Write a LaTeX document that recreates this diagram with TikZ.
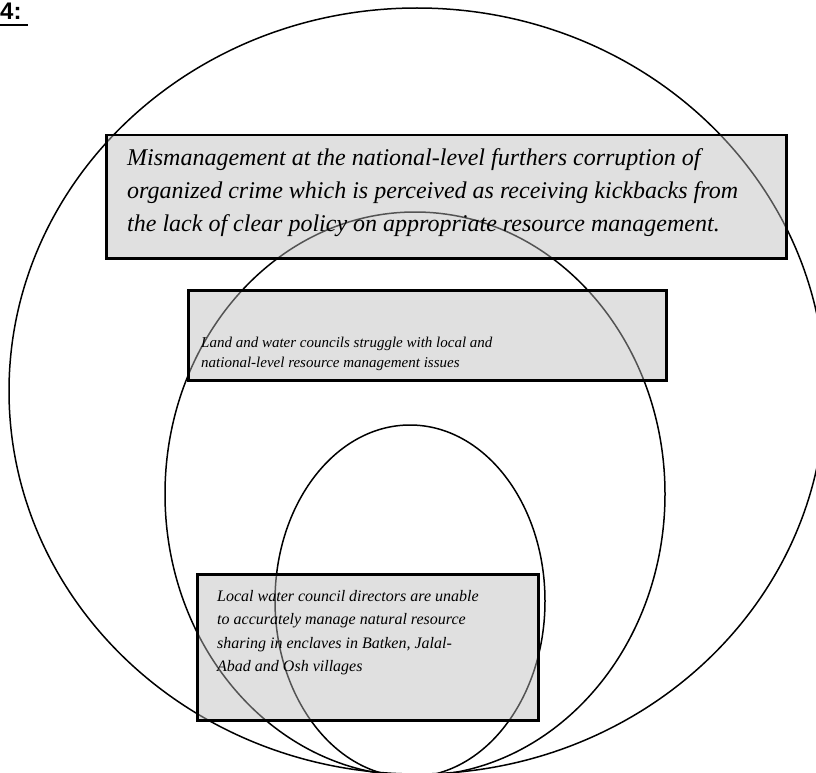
\documentclass[tikz,border=0pt]{standalone}
\usepackage{fontspec}
\setmainfont{Liberation Serif}
\setsansfont{Liberation Sans}
\begin{document}
\begin{tikzpicture}[x=1pt,y=-1pt,
  ring/.style={draw=black,line width=1.5pt},
  panel/.style={draw=black,line width=2.5pt,
    fill={rgb,1:red,0.73;green,0.73;blue,0.73},fill opacity=0.45,draw opacity=1,
    inner sep=0pt,anchor=north west},
  bigtext/.style={font=\fontsize{24}{33}\selectfont\itshape,align=left,inner sep=0pt,anchor=north west},
  smalltext/.style={font=\fontsize{16}{22}\selectfont\itshape,align=left,inner sep=0pt,anchor=north west}]
\useasboundingbox (0,0) rectangle (816,773);

% figure number
\node[font=\fontsize{24}{28}\selectfont\sffamily\bfseries,anchor=base west,inner sep=0pt] (fignum) at (0,20) {4:};
\draw[line width=2.5pt] ([yshift=-5pt]fignum.base west) -- ([xshift=6pt,yshift=-5pt]fignum.base east);

% nested ovals, meeting at the bottom edge
\draw[ring] (417,391) ellipse [x radius=408,y radius=383];
\draw[ring] (415,494) ellipse [x radius=250,y radius=282];
\draw[ring] (410,601) ellipse [x radius=135,y radius=176];

% shaded panels
\node[panel,minimum width=680pt,minimum height=123pt] (p1) at (105,134) {};
\node[panel,minimum width=478pt,minimum height=90pt] (p2) at (187,289) {};
\node[panel,minimum width=341pt,minimum height=146pt] (p3) at (196,573) {};

% panel texts
\node[bigtext] (t1) at (127,141.9) {\strut Mismanagement at the national-level furthers corruption of\\
organized crime which is perceived as receiving kickbacks from\\
the lack of clear policy on appropriate resource management.};
\node[smalltext,font=\fontsize{15}{20}\selectfont\itshape] (t2) at (201,333) {\strut Land and water councils struggle with local and\\
national-level resource management issues};
\node[smalltext,font=\fontsize{16}{23.5}\selectfont\itshape] (t3) at (217,584.5) {\strut Local water council directors are unable\\
to accurately manage natural resource\\
sharing in enclaves in Batken, Jalal-\\
Abad and Osh villages};
\end{tikzpicture}
\end{document}
